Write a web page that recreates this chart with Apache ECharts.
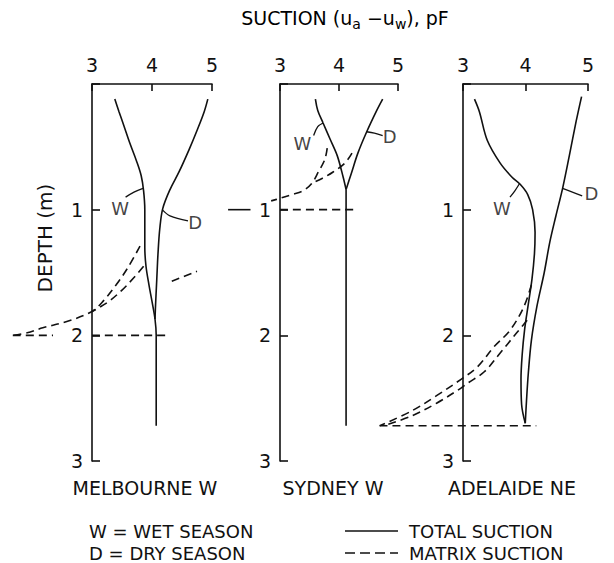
<!DOCTYPE html>
<html>
<head>
<meta charset="utf-8">
<title>Suction profiles</title>
<script src="https://cdn.jsdelivr.net/npm/echarts@6/dist/echarts.min.js"></script>
<style>
  html, body { margin: 0; padding: 0; background: #ffffff; }
  #chart { width: 614px; height: 563px; }
</style>
</head>
<body>
<div id="chart"></div>
<script>
// Soil suction (pF) against depth (m) at three Australian sites.
// Every point is [suction pF, depth m].
const siteNames = ['MELBOURNE W', 'SYDNEY W', 'ADELAIDE NE'];
const suctionTicks = [3, 4, 5];
const depthTicks = [0, 1, 2, 3];

// Melbourne W
const melTotalWet = [[3.38,0.12],[3.45,0.22],[3.53,0.33],[3.63,0.47],[3.74,0.61],[3.82,0.73],[3.86,0.85],[3.88,1.0],[3.88,1.15],[3.88,1.3],[3.9,1.45],[3.95,1.6],[4.0,1.73],[4.05,1.87],[4.07,2.0],[4.07,2.72]];
const melTotalDry = [[4.93,0.12],[4.87,0.22],[4.75,0.37],[4.62,0.52],[4.45,0.7],[4.3,0.84],[4.18,0.99],[4.13,1.15],[4.1,1.35],[4.08,1.55],[4.06,1.75],[4.05,1.87]];
const melMatrixWet = [[3.8,1.29],[3.6,1.46],[3.4,1.6],[3.2,1.72],[3.0,1.81],[2.58,1.89],[2.18,1.94],[1.92,1.98],[1.68,2.0]];
const melMatrixDry = [[3.86,1.45],[3.7,1.54],[3.5,1.64],[3.28,1.73],[3.08,1.79],[3.0,1.81]];
const melMatrixExtra = [[4.33,1.57],[4.75,1.49]];
const melActiveLeft = [[1.68,2.0],[2.35,2.0]];
const melActiveRight = [[3.0,2.0],[4.22,2.0]];

// Sydney W
const sydTotalWet = [[3.6,0.12],[3.64,0.21],[3.73,0.31],[3.85,0.44],[3.97,0.57],[4.07,0.74],[4.12,0.84]];
const sydTotalDry = [[4.74,0.12],[4.64,0.21],[4.47,0.38],[4.32,0.55],[4.21,0.71],[4.12,0.84]];
const sydTotalDeep = [[4.12,0.84],[4.12,2.72]];
const sydMatrixWet = [[3.8,0.51],[3.76,0.6],[3.65,0.7],[3.54,0.79],[3.39,0.85],[3.2,0.88],[3.0,0.91],[2.85,0.93]];
const sydMatrixDry = [[4.22,0.55],[4.1,0.63],[3.9,0.7],[3.72,0.75],[3.54,0.79]];
const sydActiveLeft = [[2.12,1.0],[2.5,1.0]];
const sydActiveRight = [[3.0,1.0],[4.27,1.0]];

// Adelaide NE
const adlTotalWet = [[3.22,0.12],[3.3,0.22],[3.43,0.45],[3.64,0.63],[3.83,0.74],[3.97,0.8],[4.09,0.88],[4.17,1.0],[4.21,1.18],[4.2,1.35],[4.16,1.55],[4.1,1.75],[4.04,1.95],[4.0,2.15],[3.98,2.35],[3.99,2.55],[4.05,2.7]];
const adlTotalDry = [[4.97,0.1],[4.88,0.3],[4.77,0.57],[4.66,0.83],[4.55,1.05],[4.45,1.26],[4.36,1.5],[4.24,1.77],[4.15,2.04],[4.1,2.3],[4.07,2.52],[4.05,2.7]];
const adlMatrixWet = [[4.15,1.6],[4.02,1.78],[3.8,1.96],[3.54,2.09],[3.27,2.25],[3.0,2.35],[2.6,2.48],[2.2,2.6],[1.67,2.72]];
const adlMatrixDry = [[4.08,1.88],[3.91,1.98],[3.64,2.14],[3.38,2.29],[3.11,2.38],[3.0,2.42],[2.6,2.54],[2.2,2.64],[1.8,2.71]];
const adlActive = [[1.67,2.72],[4.23,2.72]];

// Season labels: panel, text, label anchor, leader line
const seasonNotes = [
  [0, 'W', [3.47, 0.99], [[3.85,0.83],[3.7,0.86],[3.56,0.9]]],
  [0, 'D', [4.72, 1.1], [[4.17,1.0],[4.3,1.05],[4.6,1.09]]],
  [1, 'W', [3.38, 0.47], [[3.73,0.31],[3.64,0.34],[3.57,0.41]]],
  [1, 'D', [4.86, 0.42], [[4.47,0.38],[4.6,0.39],[4.74,0.41]]],
  [2, 'W', [3.67, 0.99], [[3.96,0.79],[3.88,0.85],[3.8,0.9]]],
  [2, 'D', [5.13, 0.87], [[4.66,0.83],[4.82,0.86],[4.98,0.89]]]
];

const font = 'DejaVu Sans';
const ink = '#111111';

// Framed panels (axes shown) and wider plotting areas sharing the same scales,
// so profiles can run past the 3 pF edge of each frame.
const panels = [
  { left: 92, width: 120 },
  { left: 280, width: 118 },
  { left: 463, width: 125 }
];
const frameTop = 84, frameHeight = 377;
const plotMin = 1.5, plotMax = 5.5;
const axisMin = suctionTicks[0], axisMax = suctionTicks[suctionTicks.length - 1];

const grids = panels.map(p => ({ left: p.left, width: p.width, top: frameTop, height: frameHeight }))
  .concat(panels.map(p => {
    const perUnit = p.width / (axisMax - axisMin);
    return { left: p.left - (axisMin - plotMin) * perUnit, width: (plotMax - plotMin) * perUnit,
             top: frameTop, height: frameHeight };
  }));

function curve(g, data, dashed) {
  return {
    type: 'line', xAxisIndex: 3 + g, yAxisIndex: 3 + g, data: data,
    showSymbol: false, symbol: 'none', clip: false, smooth: 0.35,
    silent: true, animation: false,
    lineStyle: { color: ink, width: 1.6, type: dashed ? [8, 5] : 'solid' }
  };
}

const series = [
  curve(0, melTotalWet), curve(0, melTotalDry),
  curve(0, melMatrixWet, true), curve(0, melMatrixDry, true), curve(0, melMatrixExtra, true),
  curve(0, melActiveLeft, true), curve(0, melActiveRight, true),
  curve(1, sydTotalWet), curve(1, sydTotalDry), curve(1, sydTotalDeep),
  curve(1, sydMatrixWet, true), curve(1, sydMatrixDry, true),
  curve(1, sydActiveLeft), curve(1, sydActiveRight, true),
  curve(2, adlTotalWet), curve(2, adlTotalDry),
  curve(2, adlMatrixWet, true), curve(2, adlMatrixDry, true),
  curve(2, adlActive, true)
];

seasonNotes.forEach(([g, txt, at, leader]) => {
  const s = curve(g, leader);
  s.lineStyle.width = 1.3;
  series.push(s);
  series.push({
    type: 'scatter', xAxisIndex: 3 + g, yAxisIndex: 3 + g, symbolSize: 0, silent: true,
    animation: false, clip: false,
    data: [at],
    label: { show: true, position: 'inside', formatter: txt, fontFamily: font, fontSize: 18, color: ink }
  });
});

const frameX = panels.map((_, i) => ({
  gridIndex: i, type: 'value', position: 'top',
  min: axisMin, max: axisMax, interval: 1,
  axisLine: { show: true, onZero: false, lineStyle: { color: ink, width: 1.6 } },
  axisTick: { show: true, inside: true, length: 7, lineStyle: { color: ink, width: 1.6 } },
  axisLabel: { margin: 10, fontFamily: font, fontSize: 19, color: ink },
  splitLine: { show: false }
}));
const plotX = panels.map((_, i) => ({
  gridIndex: 3 + i, type: 'value', min: plotMin, max: plotMax, show: false, splitLine: { show: false }
}));

const frameY = panels.map((_, i) => ({
  gridIndex: i, type: 'value', inverse: true,
  min: depthTicks[0], max: depthTicks[depthTicks.length - 1], interval: 1,
  axisLine: { show: true, onZero: false, lineStyle: { color: ink, width: 1.6 } },
  axisTick: { show: true, inside: true, length: 8, lineStyle: { color: ink, width: 1.6 } },
  axisLabel: { margin: 9, fontFamily: font, fontSize: 19, color: ink,
    formatter: v => (v === 0 ? '' : String(v)) },
  splitLine: { show: false }
}));
const plotY = panels.map((_, i) => ({
  gridIndex: 3 + i, type: 'value', inverse: true,
  min: depthTicks[0], max: depthTicks[depthTicks.length - 1], show: false, splitLine: { show: false }
}));

const textStyle = (size) => ({ fontFamily: font, fontSize: size, fill: ink });

const graphic = [
  { type: 'text', x: 345, y: 8,
    style: {
      text: '{n|SUCTION (u}{s|a}{n| −u}{s|w}{n|), pF}', align: 'center',
      rich: {
        n: { fontFamily: font, fontSize: 19, color: ink, lineHeight: 26, verticalAlign: 'top' },
        s: { fontFamily: font, fontSize: 14, color: ink, lineHeight: 26, padding: [9, 0, 0, 0], verticalAlign: 'top' }
      }
    }
  },
  { type: 'text', x: 45, y: 238, rotation: Math.PI / 2,
    style: Object.assign({ text: 'DEPTH (m)', align: 'center', verticalAlign: 'middle' }, textStyle(20)) },
  { type: 'text', x: 145, y: 488, style: Object.assign({ text: siteNames[0], align: 'center', verticalAlign: 'middle' }, textStyle(19)) },
  { type: 'text', x: 333, y: 488, style: Object.assign({ text: siteNames[1], align: 'center', verticalAlign: 'middle' }, textStyle(19)) },
  { type: 'text', x: 512, y: 488, style: Object.assign({ text: siteNames[2], align: 'center', verticalAlign: 'middle' }, textStyle(19)) },
  // key
  { type: 'text', x: 89, y: 531, style: Object.assign({ text: 'W = WET SEASON', verticalAlign: 'middle' }, textStyle(18)) },
  { type: 'text', x: 89, y: 553, style: Object.assign({ text: 'D = DRY SEASON', verticalAlign: 'middle' }, textStyle(18)) },
  { type: 'line', shape: { x1: 345, y1: 531, x2: 398, y2: 531 }, style: { stroke: ink, lineWidth: 1.6 } },
  { type: 'line', shape: { x1: 345, y1: 553, x2: 398, y2: 553 }, style: { stroke: ink, lineWidth: 1.6, lineDash: [10, 5] } },
  { type: 'text', x: 409, y: 531, style: Object.assign({ text: 'TOTAL SUCTION', verticalAlign: 'middle' }, textStyle(18)) },
  { type: 'text', x: 409, y: 553, style: Object.assign({ text: 'MATRIX SUCTION', verticalAlign: 'middle' }, textStyle(18)) }
];

const chart = echarts.init(document.getElementById('chart'), null, { renderer: 'svg' });
chart.setOption({
  backgroundColor: '#ffffff',
  animation: false,
  grid: grids,
  xAxis: frameX.concat(plotX),
  yAxis: frameY.concat(plotY),
  series: series,
  graphic: graphic
});
</script>
</body>
</html>
